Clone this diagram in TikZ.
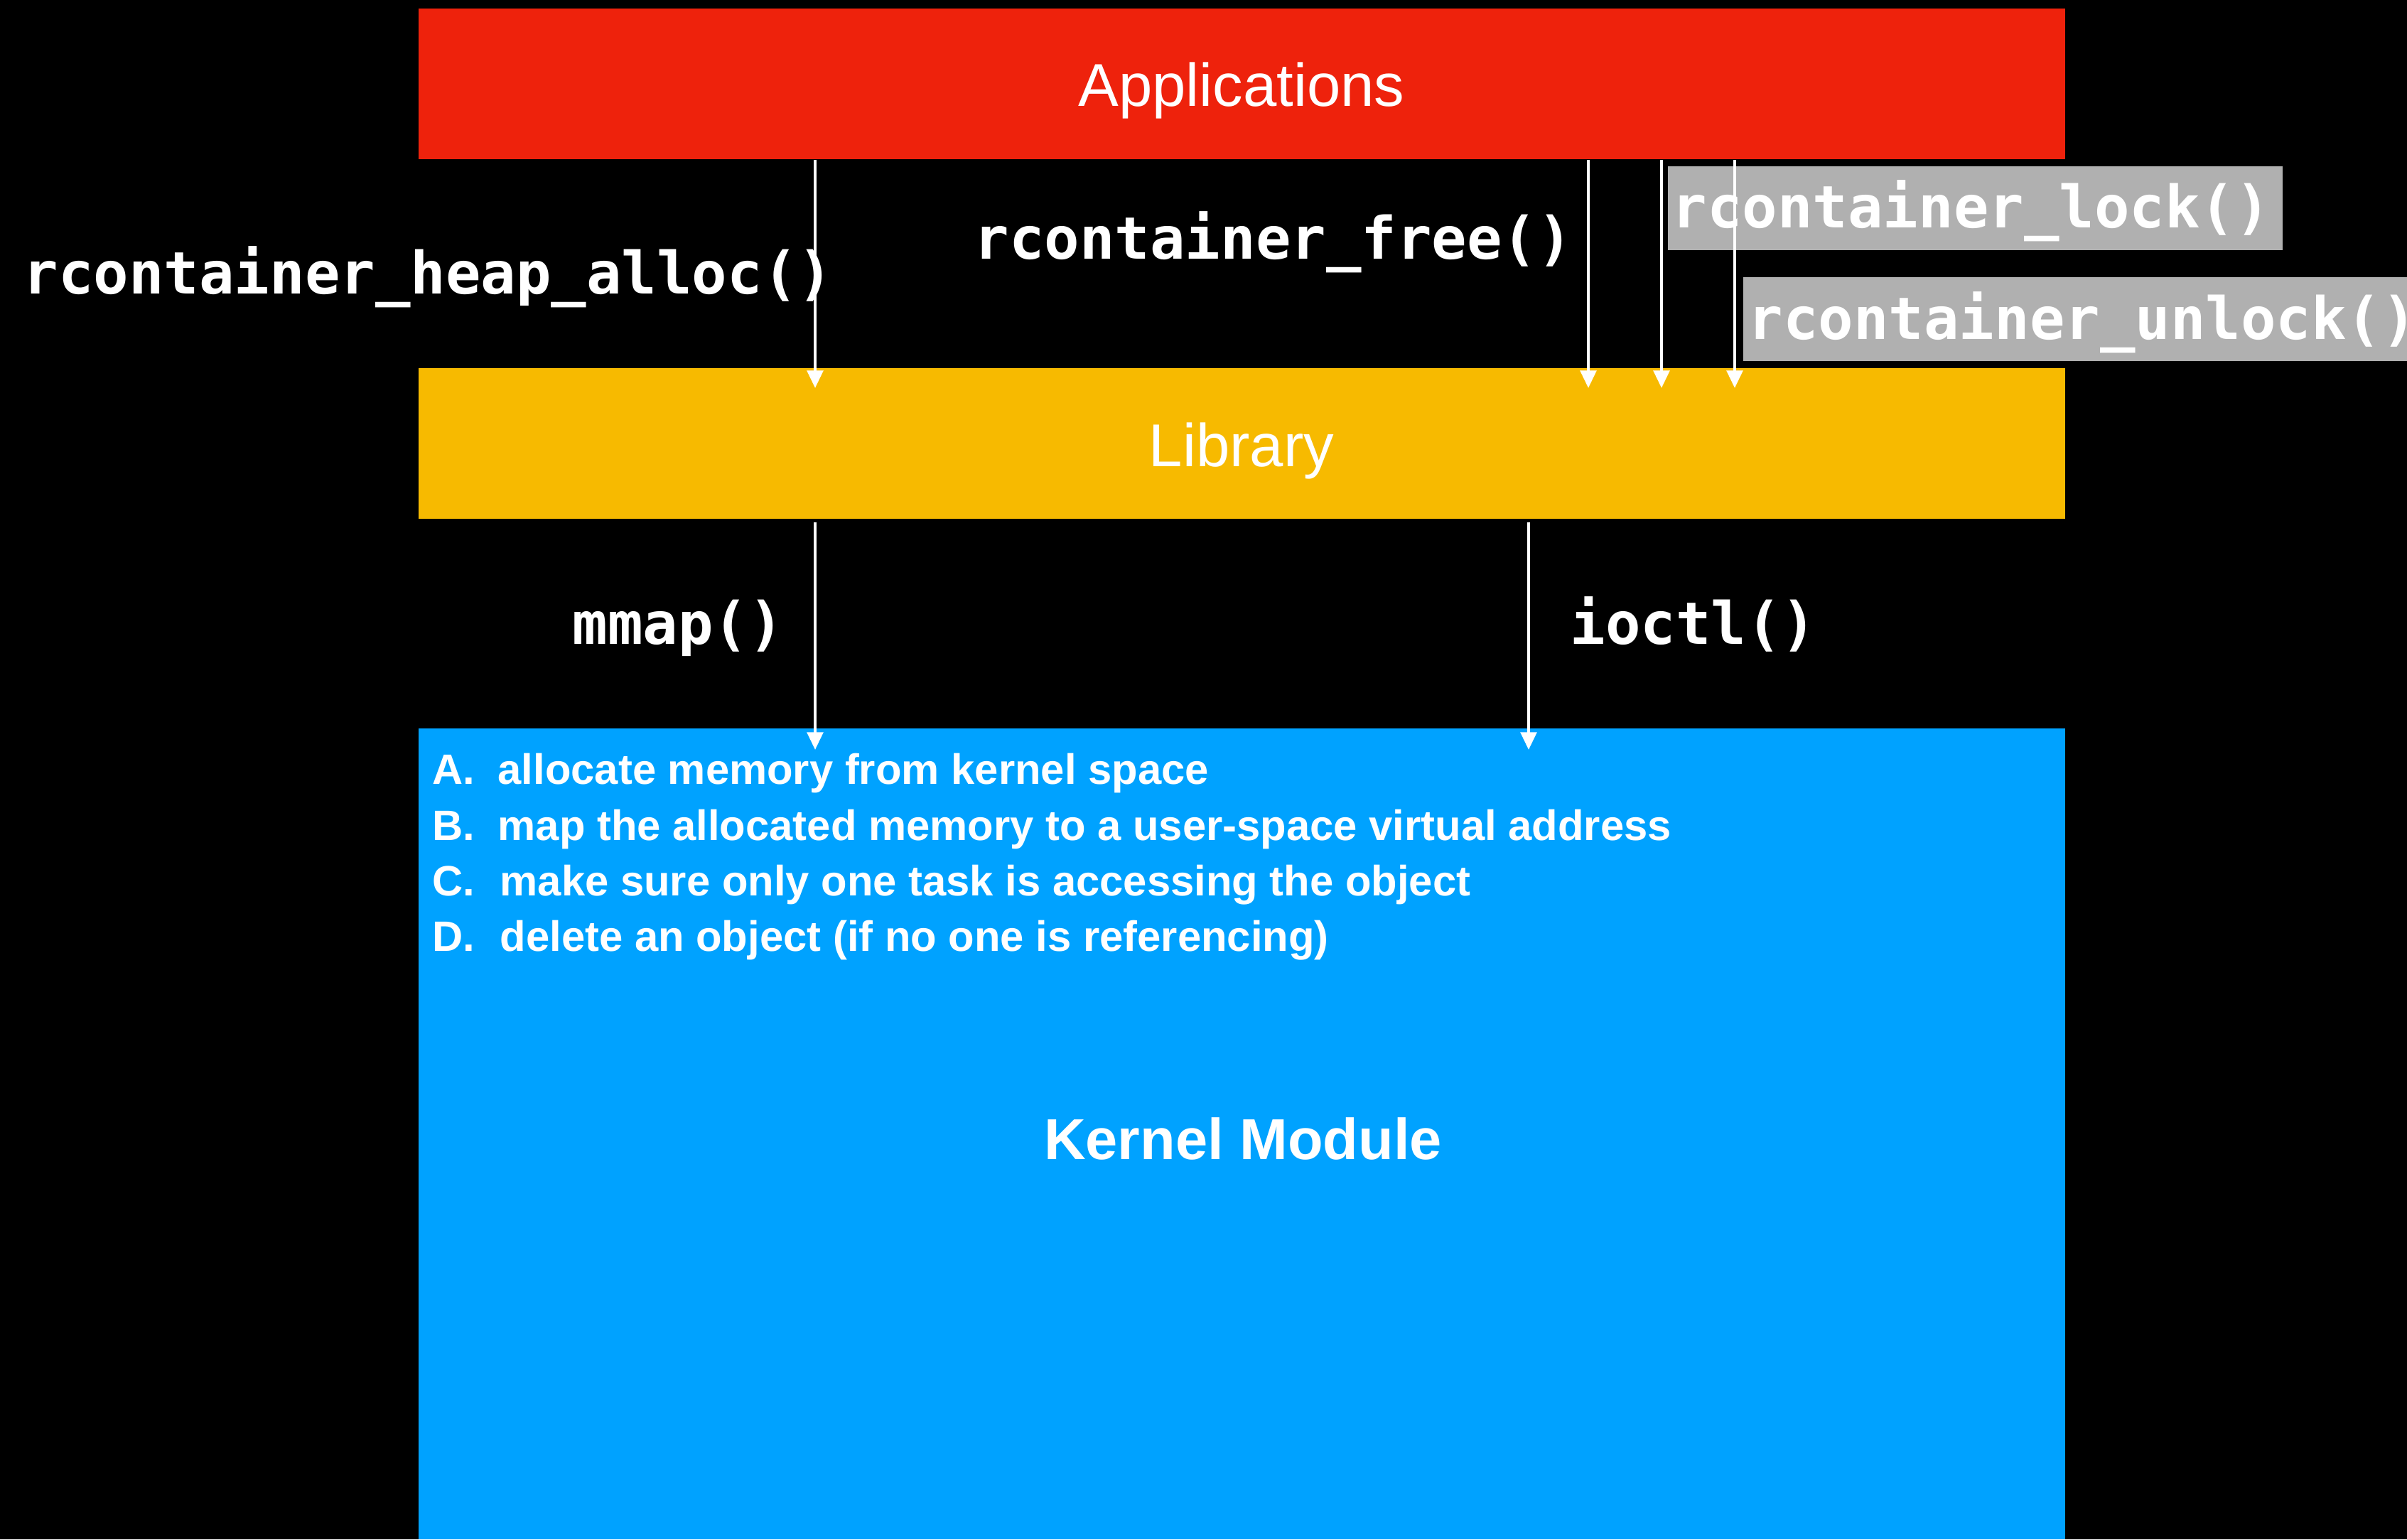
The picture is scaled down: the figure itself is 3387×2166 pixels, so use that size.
\documentclass[tikz,border=0pt]{standalone}
\usepackage{fontspec}
\setmainfont{Liberation Sans}
\newfontfamily\monof{DejaVu Sans Mono}
\usetikzlibrary{arrows.meta}
\definecolor{appred}{RGB}{238,34,12}
\definecolor{libyellow}{RGB}{247,186,0}
\definecolor{kernblue}{RGB}{0,162,255}
\definecolor{fngray}{RGB}{176,176,176}
\begin{document}
\begin{tikzpicture}[x=0.01cm,y=-0.01cm,
  bar/.style={inner sep=0pt, minimum width=23.15cm, text=white},
  fn/.style={text=white, inner sep=0pt, font=\monof\bfseries\fontsize{23.4}{26}\selectfont},
  graybox/.style={fill=fngray, inner sep=0pt, anchor=north west, minimum height=1.18cm},
  item/.style={text=white, inner sep=0pt, anchor=base west, font=\bfseries\fontsize{17.0}{21}\selectfont},
  arr/.style={draw=white, line width=1.15pt, -{Triangle[length=7pt,width=6.4pt]}}
]
\fill[black] (0,0) rectangle (3387,2166);
\useasboundingbox (0,0) rectangle (3387,2166);

% bars
\node[bar, fill=appred, minimum height=2.12cm] (app) at (1747.5,118) {};
\node[bar, fill=libyellow, minimum height=2.12cm] (lib) at (1747.5,624) {};
\node[bar, fill=kernblue, minimum height=11.41cm] (kern) at (1747.5,1595.5) {};

% bar labels
\node[text=white, inner sep=0pt, anchor=base, font=\fontsize{24.2}{28}\selectfont] (applbl) at (1747,149) {Applications};
\node[text=white, inner sep=0pt, anchor=base, font=\fontsize{24.2}{28}\selectfont] (liblbl) at (1747,656) {Library};
\node[text=white, inner sep=0pt, anchor=base, font=\bfseries\fontsize{23.1}{28}\selectfont] (kernlbl) at (1749,1631) {Kernel Module};

% list
\node[item] (la) at (608,1103) {A.};
\node[item] (ta) at (700,1103) {allocate memory from kernel space};
\node[item] (lb) at (608,1182) {B.};
\node[item] (tb) at (700,1182) {map the allocated memory to a user-space virtual address};
\node[item] (lc) at (608,1260) {C.};
\node[item] (tc) at (703,1260) {make sure only one task is accessing the object};
\node[item] (ld) at (608,1338) {D.};
\node[item] (td) at (703,1338) {delete an object (if no one is referencing)};

% arrow tip coordinates
\coordinate (t1) at (1147,546);
\coordinate (t2) at (2235,546);
\coordinate (t3) at (2338,546);
\coordinate (t4) at (2441,546);
\coordinate (t5) at (1147,1055);
\coordinate (t6) at (2151,1055);

% gray boxes
\node[graybox, minimum width=8.65cm] (lockbox) at (2346,233) {};
\node[graybox, minimum width=9.6cm] (unlockbox) at (2452,389) {};

% function labels
\node[fn, anchor=base west] (heap) at (32,413) {rcontainer\_heap\_alloc()};
\node[fn, anchor=base west] (free) at (1370,364) {rcontainer\_free()};
\node[fn, anchor=base west] (lock) at (2352,320) {rcontainer\_lock()};
\node[fn, anchor=base west] (unlock) at (2459,477) {rcontainer\_unlock()};
\node[fn, anchor=base west] (mmap) at (805,906) {mmap()};
\node[fn, anchor=base west] (ioctl) at (2209,906) {ioctl()};

% arrows
\draw[arr] (app.south -| t1) -- (t1);
\draw[arr] (app.south -| t2) -- (t2);
\draw[arr] (app.south -| t3) -- (t3);
\draw[arr] (app.south -| t4) -- (t4);
\draw[arr] ([yshift=-0.04cm]lib.south -| t5) -- (t5);
\draw[arr] ([yshift=-0.04cm]lib.south -| t6) -- (t6);
\end{tikzpicture}
\end{document}
